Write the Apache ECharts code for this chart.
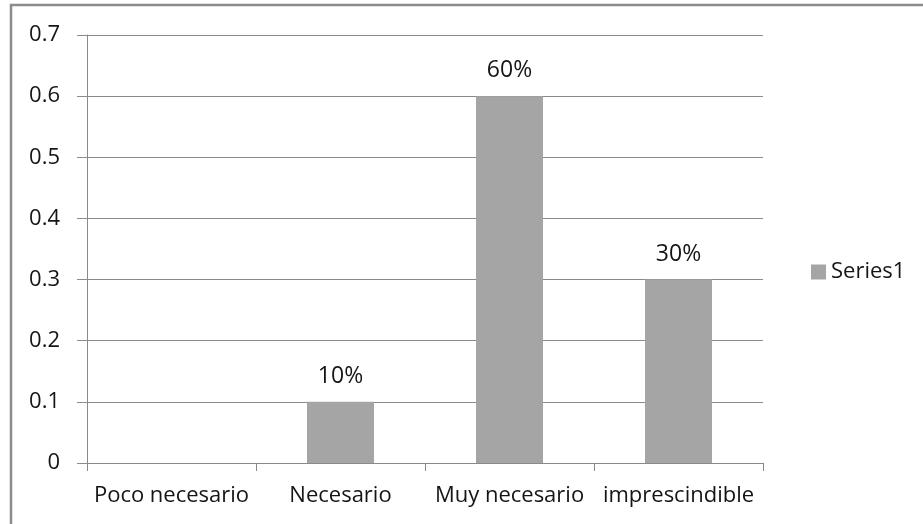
<!DOCTYPE html>
<html>
<head>
<meta charset="utf-8">
<script src="https://cdn.jsdelivr.net/npm/echarts@6/dist/echarts.min.js"></script>
<style>html,body{margin:0;padding:0;background:#fff;}#c{width:923px;height:524px;}</style>
</head>
<body>
<div id="c"></div>
<script>
const categories = ['Poco necesario', 'Necesario', 'Muy necesario', 'imprescindible'];
const values = [0, 0.1, 0.6, 0.3];
const seriesName = 'Series1';
const yMin = 0, yMax = 0.7, yStep = 0.1;

const FONT = '"Open Sans", sans-serif';
const TXT = '#151515';
const chart = echarts.init(document.getElementById('c'));
chart.setOption({
  animation: false,
  backgroundColor: '#fff',
  graphic: [{
    type: 'rect',
    shape: { x: 11, y: 5, width: 930, height: 540 },
    style: { fill: 'none', stroke: '#8c8c8c', lineWidth: 2.5 },
    silent: true
  }],
  legend: {
    data: [seriesName],
    left: 806, top: 256,
    itemWidth: 15, itemHeight: 15, itemGap: 6,
    icon: 'rect',
    textStyle: { fontFamily: FONT, fontSize: 22, color: TXT }
  },
  grid: { left: 87, right: 160, top: 35, bottom: 61, containLabel: false },
  xAxis: {
    type: 'category',
    data: categories,
    axisLine: { lineStyle: { color: '#8a8a8a', width: 1 } },
    axisTick: { show: true, length: 8, alignWithLabel: false, lineStyle: { color: '#8a8a8a' } },
    axisLabel: { margin: 22, fontFamily: FONT, fontSize: 22, color: TXT, interval: 0 },
    splitLine: { show: false }
  },
  yAxis: {
    type: 'value',
    min: yMin, max: yMax, interval: yStep,
    axisLine: { show: true, lineStyle: { color: '#8a8a8a', width: 1 } },
    axisTick: { show: true, length: 10, lineStyle: { color: '#8a8a8a' } },
    axisLabel: {
      margin: 27, fontFamily: FONT, fontSize: 22, color: TXT,
      formatter: v => v === 0 ? '0' : v.toFixed(1)
    },
    splitLine: { show: true, lineStyle: { color: '#8a8a8a', width: 1 } }
  },
  series: [{
    name: seriesName,
    type: 'bar',
    data: values,
    barWidth: 67,
    itemStyle: { color: '#a5a5a5' },
    label: {
      show: true, position: 'top', distance: 14,
      fontFamily: FONT, fontSize: 23, color: TXT,
      formatter: p => p.value > 0 ? Math.round(p.value * 100) + '%' : ''
    }
  }]
});
</script>
</body>
</html>
